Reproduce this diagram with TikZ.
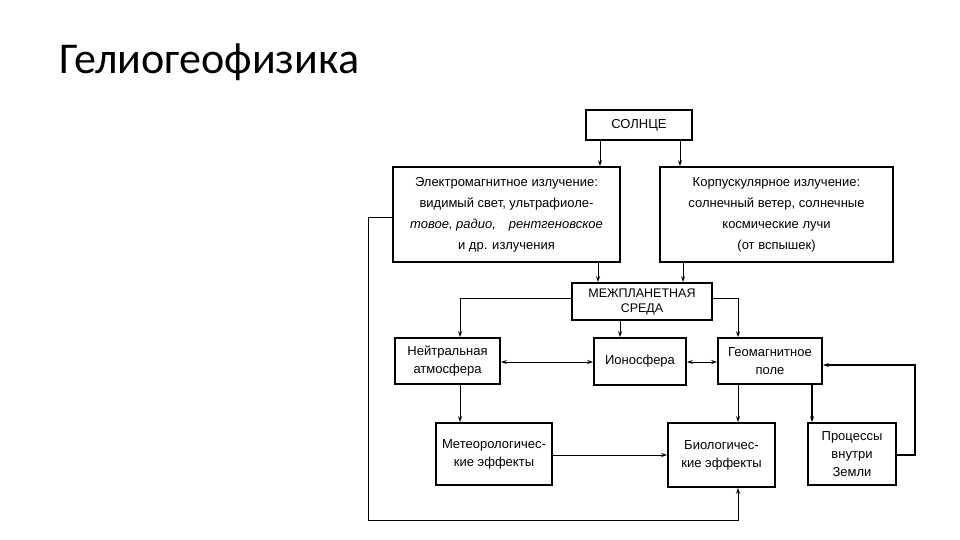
\documentclass[tikz,border=0pt]{standalone}
\usepackage{fontspec}
\setmainfont{Liberation Sans}
\newfontfamily\titlefont{Carlito}
\usetikzlibrary{arrows.meta}
\begin{document}
\begin{tikzpicture}[x=1pt,y=-1pt,
 box/.style={draw,line width=1.6pt,align=center,inner sep=0pt,font=\fontsize{13}{18}\selectfont},
 big/.style={font=\fontsize{13}{21}\selectfont},
 ar/.style={-{Stealth[length=6pt,width=4pt]},line width=1pt},
 ar2/.style={{Stealth[length=6pt,width=4pt]}-{Stealth[length=6pt,width=4pt]},line width=1pt}]
\useasboundingbox (0,0) rectangle (960,540);
\node[anchor=west,font=\titlefont\fontsize{44}{50}\selectfont] (title) at (56,62) {Гелиогеофизика};
\node[box,minimum width=106pt,minimum height=30pt] (sun) at (639,125) {СОЛНЦЕ};
\node[box,big,minimum width=227pt,minimum height=95pt] (em) at (506.5,214.5) {Электромагнитное излучение:\\видимый свет, ультрафиоле-\\\textit{товое, радио,}\quad\textit{рентгеновское}\\и др. излучения};
\node[box,big,minimum width=233pt,minimum height=95pt] (corp) at (776.5,214.5) {Корпускулярное излучение:\\солнечный ветер, солнечные\\космические лучи\\(от вспышек)};
\node[box,minimum width=140pt,minimum height=37pt,font=\fontsize{12.5}{15}\selectfont] (mez) at (642,301.5) {МЕЖПЛАНЕТНАЯ\\СРЕДА};
\node[box,minimum width=105pt,minimum height=46pt] (neu) at (447.5,361) {Нейтральная\\атмосфера};
\node[box,minimum width=92pt,minimum height=47pt] (ion) at (640,361.5) {Ионосфера};
\node[box,minimum width=104pt,minimum height=46pt] (geo) at (770,361) {Геомагнитное\\поле};
\node[box,minimum width=116pt,minimum height=62pt] (met) at (494,454) {Метеорологичес-\\кие эффекты};
\node[box,minimum width=107pt,minimum height=64pt] (bio) at (721.5,455) {Биологичес-\\кие эффекты};
\node[box,minimum width=88pt,minimum height=62pt] (pro) at (852,454) {Процессы\\внутри\\Земли};
\coordinate (c1) at (368,217);
\coordinate (c2) at (368,520);
\coordinate (c3) at (738,520);
\coordinate (c4) at (915,455);
\coordinate (c5) at (915,365);
\draw[ar] (sun.south -| 600,0) -- (em.north -| 600,0);
\draw[ar] (sun.south -| 680,0) -- (corp.north -| 680,0);
\draw[ar] (em.south -| 598,0) -- (mez.north -| 598,0);
\draw[ar] (corp.south -| 683,0) -- (mez.north -| 683,0);
\draw[ar] (mez.west |- 0,298) -| (neu.north -| 460,0);
\draw[ar] (mez.south -| 620,0) -- (ion.north -| 620,0);
\draw[ar] (mez.east |- 0,298) -| (geo.north -| 738,0);
\draw[ar2] (neu.east |- 0,362) -- (ion.west |- 0,362);
\draw[ar2] (ion.east |- 0,362) -- (geo.west |- 0,362);
\draw[ar] (neu.south -| 460,0) -- (met.north -| 460,0);
\draw[ar] (met.east |- 0,455) -- (bio.west |- 0,455);
\draw[ar] (geo.south -| 738,0) -- (bio.north -| 738,0);
\draw[ar,line width=1.6pt] (geo.south -| 812,0) -- (pro.north -| 812,0);
\draw[ar,line width=2pt] (pro.east |- c4) -- (c4) -- (c5) -- (geo.east |- c5);
\draw[ar] (em.west |- c1) -- (c1) -- (c2) -- (c3) -- (bio.south -| c3);
\end{tikzpicture}
\end{document}
